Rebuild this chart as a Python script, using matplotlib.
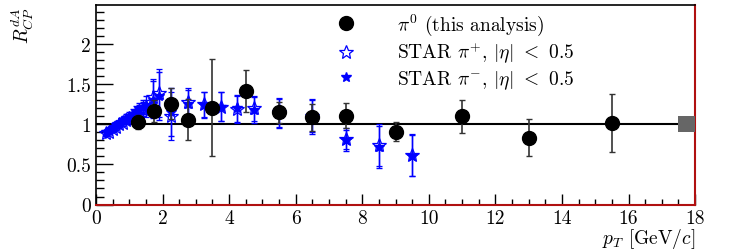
import numpy as np
import matplotlib

matplotlib.use("Agg")
import matplotlib.pyplot as plt
from matplotlib.lines import Line2D
from matplotlib.patches import Rectangle
from matplotlib.ticker import MultipleLocator

plt.rcParams["font.family"] = "serif"
plt.rcParams["font.serif"] = ["cmr10", "DejaVu Serif"]
plt.rcParams["mathtext.fontset"] = "cm"
plt.rcParams["axes.formatter.use_mathtext"] = True

# pi0 (this analysis)
pi0_pt = [1.25, 1.75, 2.25, 2.75, 3.5, 4.5, 5.5, 6.5, 7.5, 9.0, 11.0, 13.0, 15.5]
pi0_r = [1.03, 1.17, 1.26, 1.06, 1.21, 1.42, 1.15, 1.09, 1.11, 0.91, 1.10, 0.835, 1.02]
pi0_err = [0.09, 0.14, 0.19, 0.26, 0.61, 0.26, 0.13, 0.17, 0.16, 0.12, 0.21, 0.23, 0.36]

# STAR pi+ / pi-, |eta| < 0.5
star_pt = [0.3, 0.4, 0.5, 0.6, 0.7, 0.8, 0.9, 1.0, 1.1, 1.2, 1.3, 1.4,
           1.5, 1.7, 1.9, 2.25, 2.75, 3.25, 3.75, 4.25, 4.75, 5.5, 6.5,
           7.5, 8.5, 9.5]
pip_r = [0.89, 0.91, 0.94, 0.97, 1.00, 1.02, 1.05, 1.07, 1.10, 1.12, 1.16, 1.19,
         1.20, 1.34, 1.39, 1.11, 1.28, 1.25, 1.22, 1.19, 1.20, 1.15, 1.11,
         0.82, 0.74, 0.62]
pim_r = [0.90, 0.92, 0.95, 0.99, 1.02, 1.05, 1.08, 1.10, 1.13, 1.16, 1.19, 1.22,
         1.24, 1.31, 1.36, 1.15, 1.26, 1.24, 1.22, 1.20, 1.18, 1.14, 1.09,
         0.80, 0.72, 0.61]
star_err = [0.03, 0.03, 0.03, 0.04, 0.04, 0.04, 0.05, 0.05, 0.06, 0.07, 0.08, 0.09,
            0.11, 0.23, 0.30, 0.30, 0.17, 0.16, 0.18, 0.17, 0.16, 0.18, 0.21,
            0.13, 0.26, 0.26]

# normalisation uncertainty box at unity
norm_x = 17.5
norm_w = 0.5
norm_err = 0.1

fig = plt.figure(figsize=(7.48, 2.53), dpi=100)
ax = fig.add_axes([0.1283, 0.1877, 0.801, 0.788])

ax.axhline(1.0, color="black", lw=1.5, zorder=1)
ax.add_patch(Rectangle((norm_x, 1 - norm_err), norm_w, 2 * norm_err,
                       facecolor="#666666", edgecolor="none", zorder=3))

ax.errorbar(star_pt, pip_r, yerr=star_err, fmt="*", ms=10, mfc="none", mec="blue",
            mew=0.9, ecolor="blue", elinewidth=1, capsize=2, zorder=4)
ax.errorbar(star_pt, pim_r, yerr=star_err, fmt="*", ms=7, color="blue",
            ecolor="blue", elinewidth=1, capsize=2, zorder=4)
ax.errorbar(pi0_pt, pi0_r, yerr=pi0_err, fmt="o", ms=10, color="black",
            ecolor="#333333", elinewidth=1.2, capsize=2.5, zorder=5)

ax.set_xlim(0, 18)
ax.set_ylim(0, 2.49)
ax.xaxis.set_major_locator(MultipleLocator(2))
ax.xaxis.set_minor_locator(MultipleLocator(0.5))
ax.yaxis.set_major_locator(MultipleLocator(0.5))
ax.yaxis.set_minor_locator(MultipleLocator(0.1))
ax.tick_params(axis="both", which="both", direction="in", labelsize=14,
               top=False, right=False)
ax.tick_params(axis="y", which="major", length=12, width=1)
ax.tick_params(axis="y", which="minor", length=6, width=1)
ax.tick_params(axis="x", which="major", length=8, width=1)
ax.tick_params(axis="x", which="minor", length=4, width=1)
ax.yaxis.set_major_formatter(plt.FuncFormatter(lambda v, p: f"{v:g}"))
ax.xaxis.set_major_formatter(plt.FuncFormatter(lambda v, p: f"{v:g}"))

for s in ("left", "top"):
    ax.spines[s].set_color("black")
    ax.spines[s].set_linewidth(1.2)
for s in ("right", "bottom"):
    ax.spines[s].set_color("#b01010")
    ax.spines[s].set_linewidth(1.5)

# legend shows markers only
leg_handles = [
    Line2D([], [], ls="none", marker="o", ms=10, color="black"),
    Line2D([], [], ls="none", marker="*", ms=10, mfc="none", mec="blue", mew=0.9),
    Line2D([], [], ls="none", marker="*", ms=7, color="blue"),
]
leg_labels = [
    r"$\pi^{0}$ (this analysis)",
    r"STAR $\pi^{+}$, $|\eta|$ $<$ 0.5",
    r"STAR $\pi^{-}$, $|\eta|$ $<$ 0.5",
]
ax.legend(leg_handles, leg_labels, loc="upper left", bbox_to_anchor=(0.37, 1.035),
          frameon=False, fontsize=14, handlelength=1.5, handletextpad=1.9,
          labelspacing=0.15, borderaxespad=0.3)

ax.set_ylabel(r"$R_{CP}^{dA}$", fontsize=14)
ax.yaxis.set_label_coords(-0.1, 0.9)
ax.set_xlabel(r"$p_{T}$ [GeV/$c$]", fontsize=14)
ax.xaxis.set_label_coords(1.0, -0.11)
ax.xaxis.label.set_horizontalalignment("right")

fig.savefig("out.png", dpi=100)
